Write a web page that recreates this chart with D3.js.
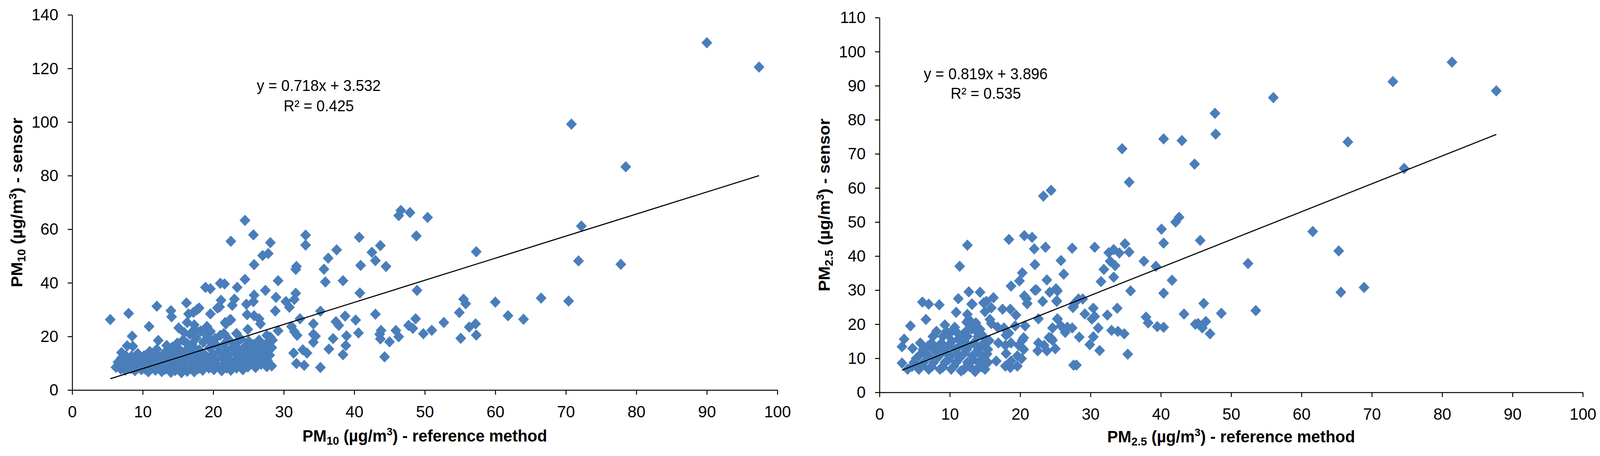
<!DOCTYPE html>
<html>
<head>
<meta charset="utf-8">
<script src="https://cdn.jsdelivr.net/npm/d3@7"></script>
<style>
  html, body { margin: 0; padding: 0; background: #fff; overflow: hidden; }
  #chart svg { display: block; width: 100vw; height: 100vh; }
  text { font-family: "Liberation Sans", Arial, sans-serif; fill: #000; }
</style>
</head>
<body>
<div id="chart"></div>
<script>
// --- Data ---
var pm10XTicks = [0, 10, 20, 30, 40, 50, 60, 70, 80, 90, 100];
var pm10YTicks = [0, 20, 40, 60, 80, 100, 120, 140];
var pm25XTicks = [0, 10, 20, 30, 40, 50, 60, 70, 80, 90, 100];
var pm25YTicks = [0, 10, 20, 30, 40, 50, 60, 70, 80, 90, 100, 110];

var pm10Fit = {label: "y = 0.718x + 3.532", r2: "R\u00b2 = 0.425"};
var pm25Fit = {label: "y = 0.819x + 3.896", r2: "R\u00b2 = 0.535"};

// trend line ends as drawn in the picture [x, y]
var pm10Trend = [[5.4, 4.2], [97.4, 80.0]];
var pm25Trend = [[3.2, 6.5], [87.7, 75.7]];

// [reference method, sensor]
var pm10Points = [
  [5.4,26.3],[8.0,28.6],[12.0,31.3],[10.9,23.7],[8.5,20.1],[7.8,16.5],[8.6,16.3],[7.0,14.0],[7.6,12.8],[12.2,18.5],
  [14.0,29.6],[14.1,27.3],[16.2,32.5],[15.1,23.2],[16.5,28.4],[18.0,30.6],[17.2,29.0],[17.7,30.0],[16.3,25.2],[17.3,24.3],[17.4,22.8],
  [15.9,21.4],[17.0,21.4],[19.1,23.7],[19.5,21.4],[14.9,17.5],[14.2,16.0],[13.5,13.1],
  [18.9,38.3],[19.6,37.8],[21.0,39.8],[21.6,39.6],[22.5,55.5],[23.4,38.3],[24.5,41.3],[25.8,46.8],[25.7,57.9],[24.5,63.3],
  [19.6,28.4],[19.1,23.5],[19.6,21.9],[20.6,30.6],[21.1,33.5],[20.9,31.0],[21.7,25.2],[22.4,26.3],[21.5,21.1],[23.0,33.9],[22.7,31.6],[23.3,21.1],
  [24.7,32.0],[25.7,33.0],[25.8,35.4],[24.8,28.1],[25.8,27.7],[26.5,26.6],[26.7,24.7],[21.8,24.7],[22.5,26.2],[21.6,20.8],[24.9,22.6],
  [27.0,50.2],[27.8,50.9],[28.1,55.0],[27.4,37.2],[28.9,34.6],[28.8,29.5],[29.2,40.8],[29.2,22.1],[27.6,20.4],[28.1,19.7],
  [30.3,33.0],[30.8,30.9],[31.5,33.8],[31.7,36.1],[31.8,46.1],[31.7,45.0],[33.1,57.8],[33.1,54.1],[32.3,26.6],
  [31.1,23.7],[31.5,21.8],[31.9,20.4],[35.2,29.4],[34.2,24.7],[34.2,20.8],[34.5,20.1],[34.2,17.8],
  [35.7,45.1],[36.3,49.2],[35.9,40.3],[37.5,52.3],[38.4,40.8],[40.7,57.0],[40.9,46.5],[40.8,36.2],[42.5,51.4],[43.0,48.3],[43.7,53.9],[44.5,46.1],[43.0,28.3],
  [40.2,26.1],[40.6,21.3],[37.4,25.5],[37.8,24.1],[37.0,19.2],[36.4,15.3],[38.4,13.2],[38.9,20.2],[38.8,16.6],[38.7,27.6],
  [43.8,22.2],[43.6,20.8],[43.7,19.1],[45.0,18.0],[44.3,12.4],[45.9,22.2],[46.3,19.9],
  [31.4,13.8],[32.7,15.0],[33.3,13.8],[31.8,9.9],[32.9,9.2],[35.2,8.4],[27.6,8.7],[28.3,9.0],[28.0,15.4],[27.6,17.5],[27.0,12.1],
  [46.6,67.0],[46.3,65.1],[47.9,66.2],[50.4,64.4],[48.8,57.5],[57.3,51.6],[48.9,37.2],[55.5,33.9],[55.8,32.2],[60.0,32.8],
  [66.5,34.3],[70.4,33.2],[54.9,28.9],[61.8,27.7],[64.0,26.4],[48.7,26.6],[47.7,24.1],[48.3,23.0],[49.8,21.0],[51.0,22.3],
  [52.7,25.2],[56.3,23.5],[57.2,24.7],[57.3,20.5],[55.1,19.3],
  [90.0,129.6],[97.4,120.5],[70.8,99.2],[78.5,83.3],[72.2,61.2],[71.8,48.2],[77.8,46.9],
  // dense cluster
  [6.2,8.5],[6.6,9.0],[6.9,7.8],[7.2,8.8],[7.5,7.4],[7.8,8.2],[6.5,10.4],[7.1,10.9],[7.9,9.6],[8.3,8.0],
  [8.6,9.1],[8.9,7.2],[9.2,8.5],[9.5,9.8],[9.8,7.6],[8.1,10.6],[9.0,11.0],[9.6,11.8],[10.0,9.0],[10.3,7.9],
  [10.5,10.4],[10.8,6.8],[10.9,12.4],[11.2,8.7],[11.4,11.0],[11.6,9.6],[11.8,7.4],[11.9,13.2],[12.1,10.2],[12.3,8.1],
  [12.5,11.8],[12.7,6.9],[12.8,9.4],[13.0,13.6],[13.2,7.8],[13.3,10.8],[13.5,12.4],[13.7,8.6],[13.9,15.0],[14.0,6.6],
  [14.1,11.4],[14.3,9.2],[14.5,13.4],[14.6,7.3],[14.8,16.2],[14.9,10.0],[15.1,12.0],[15.2,8.0],[15.4,14.6],[15.5,6.5],
  [15.7,18.6],[15.8,10.8],[16.0,9.0],[16.1,13.0],[16.3,7.0],[16.4,15.6],[16.6,11.6],[16.7,20.8],[16.9,8.4],[17.0,17.2],
  [17.1,13.8],[17.3,6.8],[17.4,10.2],[17.6,19.4],[17.7,12.4],[17.9,8.0],[18.0,15.0],[18.2,22.0],[18.3,10.8],[18.5,7.4],
  [18.6,17.8],[18.8,13.2],[18.9,9.2],[19.1,20.2],[19.2,11.6],[19.4,8.2],[19.5,15.8],[19.7,18.0],[19.8,10.2],[20.0,13.6],
  [20.1,7.6],[20.3,19.2],[20.4,11.2],[20.6,16.4],[20.7,9.0],[20.9,14.2],[21.0,20.4],[21.2,7.2],[21.3,12.2],[21.5,17.0],
  [21.6,10.0],[21.8,15.0],[21.9,8.2],[22.1,13.0],[22.2,18.8],[22.4,11.0],[22.5,7.4],[22.7,15.8],[22.8,9.4],[23.0,13.8],
  [23.1,17.2],[23.3,8.2],[23.4,11.8],[23.6,15.2],[23.8,9.8],[23.9,19.0],[24.1,12.6],[24.2,7.6],[24.4,16.0],[24.6,10.6],
  [24.7,14.0],[24.9,8.6],[25.0,18.2],[25.2,12.0],[25.4,15.0],[25.5,9.8],[25.7,17.0],[25.8,13.2],[26.0,8.4],[26.2,15.8],
  [26.3,11.2],[26.5,18.6],[26.7,13.8],[26.8,9.6],[27.0,16.4],[27.2,12.8],[27.4,14.6],[27.7,11.0],[28.0,13.0],[28.3,15.8],
  [28.4,18.6],[10.2,12.8],[11.0,14.4],[12.0,15.2],[13.4,16.6],[8.4,12.6],[7.0,12.0],[9.3,13.6],[16.2,17.6],[17.4,15.4]
];

var pm25Points = [
  [34.5,71.5],[40.4,74.4],[43.0,73.9],[44.8,67.0],[47.7,81.9],[47.8,75.8],[35.5,61.7],[23.3,57.6],[24.4,59.3],[40.1,47.9],
  [42.1,50.0],[42.6,51.4],[40.4,43.8],[34.9,43.6],[35.5,41.2],[45.6,44.6],[12.5,43.2],[18.4,44.9],[20.6,46.0],[21.7,45.5],
  [22.0,42.1],[22.1,37.5],[23.6,42.6],[27.4,42.3],[30.6,42.6],[32.6,41.0],[33.3,41.9],[34.1,40.9],[32.8,38.5],[33.5,37.2],
  [31.9,36.1],[31.5,32.5],[33.3,33.8],[37.6,38.5],[39.3,37.0],[41.6,32.9],[40.4,29.1],[35.7,29.8],[33.8,24.7],[32.4,22.7],
  [30.4,24.7],[30.6,22.3],[30.2,21.5],[31.1,18.9],[30.4,16.3],[31.3,12.3],[29.9,14.0],[28.4,16.2],[28.0,8.0],[33.0,18.2],
  [33.9,17.9],[34.8,17.2],[35.3,11.2],[37.9,22.1],[38.2,20.4],[39.5,19.3],[40.4,19.1],[43.3,23.0],[44.9,20.0],[46.1,26.1],
  [46.4,20.8],[45.9,18.9],[47.0,17.2],[45.3,20.2],[48.6,23.2],[53.5,24.0],[52.4,37.8],[61.6,47.2],[65.3,41.5],[68.9,30.8],
  [65.6,29.4],[56.0,86.5],[66.6,73.5],[73.0,91.2],[81.4,96.9],[87.7,88.5],[74.6,65.7],
  [11.4,37.0],[12.7,29.5],[13.1,25.9],[14.3,29.4],[11.2,27.5],[10.9,23.5],[10.7,19.1],[6.1,26.5],[7.0,25.9],[8.5,25.7],
  [6.6,21.4],[4.4,19.5],[3.5,15.6],[3.2,13.4],[3.2,8.6],[4.7,12.9],[9.3,19.8],[16.2,27.8],[15.2,26.7],[14.8,26.3],
  [15.9,24.8],[15.0,23.7],[13.2,25.9],[12.5,22.9],[12.7,21.4],[12.4,20.6],[12.9,19.9],[15.7,21.4],[15.9,20.2],[17.5,24.4],
  [18.6,24.4],[19.4,22.7],[20.9,27.5],[21.0,26.0],[22.3,30.1],[23.2,26.7],[24.2,29.4],[25.3,29.8],[25.2,26.9],[22.6,21.6],
  [25.3,21.6],[25.8,19.5],[26.7,19.1],[26.4,17.6],[27.6,25.2],[16.8,19.1],[18.4,17.4],[19.3,19.5],[20.7,19.5],[20.5,16.0],
  [22.6,14.5],[23.4,13.8],[24.1,16.1],[24.6,15.3],[25.0,12.8],[22.5,12.2],[23.8,12.2],
  [16.9,14.5],[17.9,13.8],[18.7,14.5],[19.8,13.8],[20.3,15.3],[20.5,12.6],[19.6,10.7],[18.7,9.2],[19.6,7.7],[17.9,7.7],
  [16.6,9.2],[18.0,11.4],[20.2,9.9],[18.6,7.3],
  [18.7,31.2],[19.9,32.7],[20.3,35.1],[20.6,28.3],[21.0,26.1],[22.1,30.0],[23.8,33.0],[25.1,30.4],[25.2,26.7],[25.8,38.7],
  [26.2,34.7],[28.3,27.4],[28.9,27.4],[27.5,24.9],[27.7,26.1],[29.2,23.0],[25.3,21.5],[27.4,18.9],[24.6,18.9],[24.4,15.9],
  [18.0,16.8],[17.7,18.9],
  // dense cluster
  [4.0,6.8],[5.6,6.8],[7.0,6.8],[8.6,6.8],[10.2,6.8],[12.0,6.8],[13.8,6.8],[15.0,6.8],
  [4.9,8.8],[6.3,8.8],[7.7,8.8],[9.3,8.8],[10.9,8.8],[12.5,8.8],[14.1,8.8],[15.4,8.8],
  [5.6,10.7],[7.0,10.7],[8.5,10.7],[10.1,10.7],[11.7,10.7],[13.2,10.7],[14.7,10.7],
  [6.2,12.6],[7.7,12.6],[9.2,12.6],[10.8,12.6],[12.4,12.6],[14.0,12.6],[15.4,12.6],
  [5.8,14.5],[7.4,14.5],[8.8,14.5],[12.0,14.5],[13.4,14.5],[14.8,14.5],
  [7.6,16.4],[9.0,16.4],[12.5,16.4],[14.0,16.4],[14.8,16.4],
  [8.1,17.9],[9.5,17.9],[12.3,17.9],[13.8,17.9],
  [4.6,7.6],[6.0,7.9],[7.4,7.5],[8.0,9.8],[9.0,7.4],[9.8,9.6],[10.6,7.7],[11.3,9.9],[11.6,6.3],[12.8,7.6],
  [13.3,9.6],[13.6,6.1],[14.5,7.5],[14.6,9.7],[15.3,11.3],[13.9,11.8],[12.1,11.6],[11.0,11.4],[9.6,11.5],[8.1,11.9],
  [6.6,11.4],[5.2,9.9],[6.9,13.6],[8.3,13.2],[9.9,13.9],[11.3,13.4],[12.7,13.6],[14.4,13.5],[15.6,15.2],[11.2,15.6],
  [10.3,15.0],[9.7,17.0],[11.0,17.6],[11.8,16.9],[13.1,18.6],[14.3,18.5],[10.4,18.2],[13.7,20.4],[27.6,8.0]
];

// --- Canvas ---
var svg = d3.select("#chart").append("svg")
    .attr("viewBox", "0 0 4277 1168")
    .attr("preserveAspectRatio", "none");

var panels = [
  {points: pm10Points, fit: pm10Fit, trend: pm10Trend, xTicks: pm10XTicks, yTicks: pm10YTicks, sub: "10",
   xRange: [193, 2078], yRange: [999, 38], eqX: 852, eqY: 233, eqGap: 52,
   xTitleY: 1131, yTitleX: 60},
  {points: pm25Points, fit: pm25Fit, trend: pm25Trend, xTicks: pm25XTicks, yTicks: pm25YTicks, sub: "2.5",
   xRange: [2351, 4231], yRange: [1005, 45], eqX: 2635, eqY: 203, eqGap: 50,
   xTitleY: 1133, yTitleX: 2218}
];

var diamond = "M0,-14.5L14.5,0L0,14.5L-14.5,0Z";

panels.forEach(function(p) { drawPanel(p); });

function titleText(sel, sub, tail) {
    sel.append("tspan").text("PM");
    sel.append("tspan").attr("font-size", "30px").attr("dy", 8).text(sub);
    sel.append("tspan").attr("dy", -8).text(" (\u00b5g/m");
    sel.append("tspan").attr("font-size", "28px").attr("dy", -16).text("3");
    sel.append("tspan").attr("dy", 16).text(")  -  " + tail);
}

function drawPanel(p) {
    var x = d3.scaleLinear()
        .domain([p.xTicks[0], p.xTicks[p.xTicks.length - 1]])
        .range(p.xRange);
    var y = d3.scaleLinear()
        .domain([p.yTicks[0], p.yTicks[p.yTicks.length - 1]])
        .range(p.yRange);

    var g = svg.append("g");

    // x-axis
    var xAxis = d3.axisBottom(x).tickValues(p.xTicks).tickSizeInner(12).tickSizeOuter(0).tickPadding(27);
    var xg = g.append("g")
        .attr("transform", "translate(0," + p.yRange[0] + ")")
        .call(xAxis);

    // y-axis
    var yAxis = d3.axisLeft(y).tickValues(p.yTicks).tickSizeInner(12).tickSizeOuter(0).tickPadding(25);
    var yg = g.append("g")
        .attr("transform", "translate(" + p.xRange[0] + ",0)")
        .call(yAxis);

    [xg, yg].forEach(function(a) {
        a.select(".domain").attr("stroke", "#000").attr("stroke-width", 2.5);
        a.selectAll(".tick line").attr("stroke", "#000").attr("stroke-width", 2.5);
        a.selectAll(".tick text")
            .attr("font-size", "43px")
            .attr("font-family", "'Liberation Sans', Arial, sans-serif")
            .attr("fill", "#000");
    });

    // points
    g.append("g").selectAll("path")
        .data(p.points)
        .enter()
        .append("path")
            .attr("d", diamond)
            .attr("transform", function(d) { return "translate(" + x(d[0]) + "," + y(d[1]) + ")"; })
            .attr("fill", "#4a7ebb");

    // trend line
    var line = d3.line()
        .x(function(d) { return x(d[0]); })
        .y(function(d) { return y(d[1]); });
    g.append("path")
        .datum(p.trend)
        .attr("d", line)
        .attr("fill", "none")
        .attr("stroke", "#000")
        .attr("stroke-width", 2.8);

    // equation
    g.append("text")
        .attr("x", p.eqX).attr("y", p.eqY)
        .attr("text-anchor", "middle")
        .attr("font-size", "40px")
        .text(p.fit.label);
    g.append("text")
        .attr("x", p.eqX).attr("y", p.eqY + p.eqGap)
        .attr("text-anchor", "middle")
        .attr("font-size", "40px")
        .text(p.fit.r2);

    // axis titles
    var xt = g.append("text")
        .attr("x", (p.xRange[0] + p.xRange[1]) / 2)
        .attr("y", p.xTitleY)
        .attr("text-anchor", "middle")
        .attr("font-size", "43px")
        .attr("font-weight", "bold");
    titleText(xt, p.sub, "reference method");

    var yt = g.append("text")
        .attr("transform", "translate(" + p.yTitleX + "," + ((p.yRange[0] + p.yRange[1]) / 2) + ") rotate(-90)")
        .attr("text-anchor", "middle")
        .attr("font-size", "43px")
        .attr("font-weight", "bold");
    titleText(yt, p.sub, "sensor");
}
</script>
</body>
</html>
